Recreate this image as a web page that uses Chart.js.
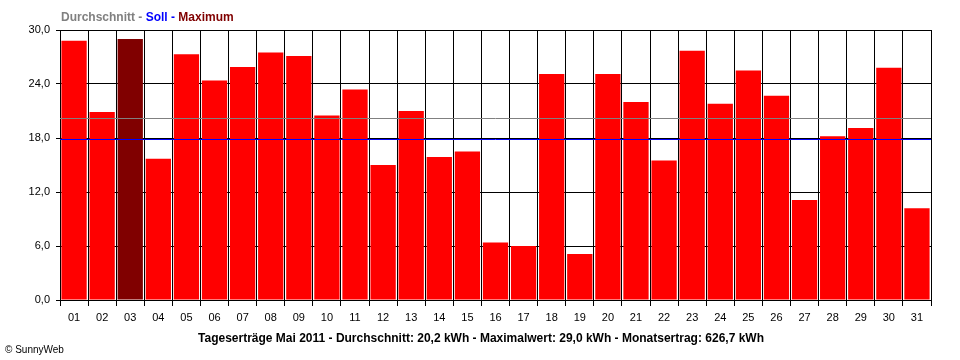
<!DOCTYPE html>
<html>
<head>
<meta charset="utf-8">
<title>Tageserträge Mai 2011</title>
<script src="https://cdn.jsdelivr.net/npm/chart.js@4/dist/chart.umd.min.js"></script>
<style>
    body { margin: 0; background: #fff; }
    #wrap { width: 960px; height: 360px; }
</style>
</head>
<body>
<div id="wrap"><canvas id="yieldChart" width="960" height="360"></canvas></div>
<script>
const days = ["01", "02", "03", "04", "05", "06", "07", "08", "09", "10",
    "11", "12", "13", "14", "15", "16", "17", "18", "19", "20",
    "21", "22", "23", "24", "25", "26", "27", "28", "29", "30", "31"];
const dailyYield = [28.8, 20.9, 29.0, 15.7, 27.3, 24.4, 25.9, 27.5, 27.1, 20.5,
    23.4, 15.0, 21.0, 15.9, 16.5, 6.4, 6.0, 25.1, 5.1, 25.1,
    22.0, 15.5, 27.7, 21.8, 25.5, 22.7, 11.1, 18.2, 19.1, 25.8, 10.2];
const average = 20.2;
const target = 18.0;
const yTicks = [0, 6, 12, 18, 24, 30];

const bottomTitle = "Tageserträge Mai 2011 - Durchschnitt: 20,2 kWh - Maximalwert: 29,0 kWh - Monatsertrag: 626,7 kWh";
const legendParts = [
    { text: "Durchschnitt - ", color: "#808080" },
    { text: "Soll - ", color: "#0000ff" },
    { text: "Maximum", color: "#800000" }
];

const maxValue = Math.max(...dailyYield);
const barColors = dailyYield.map(v => v === maxValue ? "#800000" : "#ff0000");

const font = "'Liberation Sans', Arial, sans-serif";

// average + soll lines, drawn on top of the bars
const refLines = {
    id: "refLines",
    afterDatasetsDraw(chart) {
        const { ctx, chartArea, scales } = chart;
        const yAvg = Math.round(scales.y.getPixelForValue(average)) + 0.5;
        const ySoll = Math.round(scales.y.getPixelForValue(target)) + 1.5;
        ctx.save();
        ctx.lineWidth = 1;
        ctx.strokeStyle = "#808080";
        ctx.beginPath();
        ctx.moveTo(chartArea.left, yAvg);
        ctx.lineTo(chartArea.right, yAvg);
        ctx.stroke();
        ctx.strokeStyle = "#0000ff";
        ctx.beginPath();
        ctx.moveTo(chartArea.left, ySoll);
        ctx.lineTo(chartArea.right, ySoll);
        ctx.stroke();
        ctx.restore();
    }
};

const texts = {
    id: "texts",
    afterDraw(chart) {
        const { ctx, chartArea } = chart;
        ctx.save();
        ctx.textBaseline = "alphabetic";

        ctx.font = "bold 12px " + font;
        let x = chartArea.left + 1;
        legendParts.forEach(p => {
            ctx.fillStyle = p.color;
            ctx.fillText(p.text, x, 21);
            x += ctx.measureText(p.text).width;
        });

        ctx.fillStyle = "#000";
        ctx.textAlign = "center";
        ctx.fillText(bottomTitle, 481, 342);

        ctx.textAlign = "left";
        ctx.font = "10px " + font;
        ctx.fillText("© SunnyWeb", 5, 353);
        ctx.restore();
    }
};

new Chart(document.getElementById("yieldChart"), {
    type: "bar",
    data: {
        labels: days,
        datasets: [{
            data: dailyYield,
            backgroundColor: barColors,
            borderWidth: 0,
            barPercentage: 0.9,
            categoryPercentage: 1.0
        }]
    },
    options: {
        responsive: false,
        animation: false,
        layout: {
            padding: { top: 30, right: 29, bottom: 0, left: 0 }
        },
        plugins: {
            legend: { display: false },
            tooltip: { enabled: false },
            title: { display: false }
        },
        scales: {
            x: {
                grid: {
                    color: "#000",
                    lineWidth: 1,
                    tickLength: 6,
                    offset: true
                },
                border: { color: "#000" },
                ticks: {
                    color: "#000",
                    font: { family: font, size: 11 },
                    padding: 5,
                    maxRotation: 0,
                    autoSkip: false
                },
                afterFit(scale) {
                    scale.height = 60;
                }
            },
            y: {
                min: 0,
                max: 30,
                grid: {
                    color: "#000",
                    lineWidth: 1,
                    tickLength: 4
                },
                border: { color: "#000" },
                ticks: {
                    color: "#000",
                    font: { family: font, size: 11 },
                    padding: 6,
                    callback: v => v.toFixed(1).replace(".", ",")
                },
                afterBuildTicks(scale) {
                    scale.ticks = yTicks.map(v => ({ value: v }));
                },
                afterFit(scale) {
                    scale.width = 60;
                }
            }
        }
    },
    plugins: [refLines, texts]
});
</script>
</body>
</html>
